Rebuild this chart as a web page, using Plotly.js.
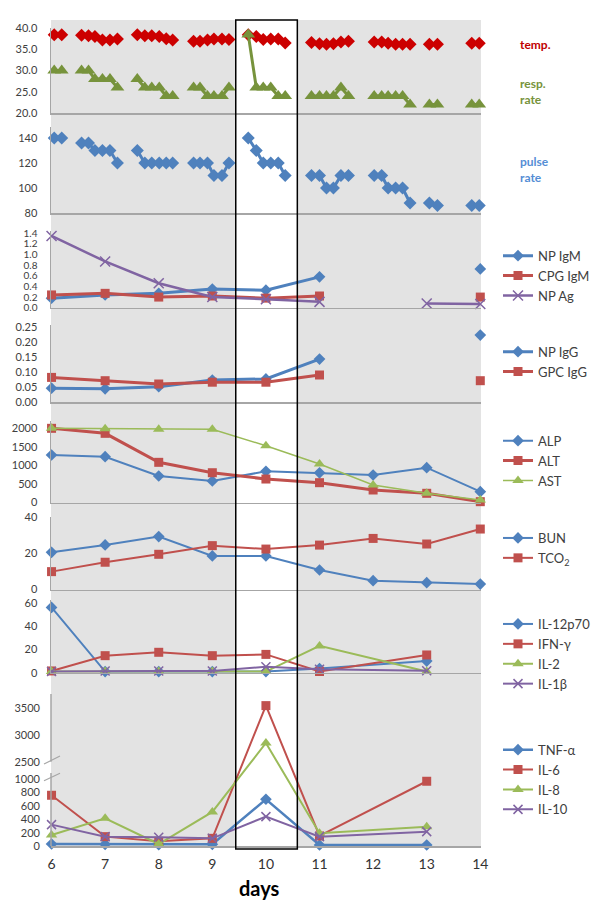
<!DOCTYPE html>
<html>
<head>
<meta charset="utf-8">
<script src="https://cdn.plot.ly/plotly-3.0.1.min.js"></script>
<style>
  html, body { margin: 0; padding: 0; background: #fff; }
  #chart { width: 600px; height: 911px; }
</style>
</head>
<body>
<div id="chart"></div>
<script>
// --- vitals: several readings per day, null breaks the line between days
const vitalsDay = [6.05, 6.19, null,
  6.56, 6.69, 6.81, 6.95, 7.09, 7.23, null,
  7.60, 7.74, 7.87, 8.01, 8.14, 8.26, null,
  8.65, 8.77, 8.91, 9.03, 9.18, 9.31, null,
  9.67, 9.82, 9.95, 10.09, 10.23, 10.36, null,
  10.85, 11.00, 11.13, 11.26, 11.40, 11.54, null,
  12.02, 12.16, 12.28, 12.42, 12.55, 12.69, null,
  13.05, 13.20, null,
  13.84, 13.98];
const temp = [38.4, 38.4, null,
  38.3, 38.2, 38.0, 37.2, 37.2, 37.4, null,
  38.4, 38.2, 38.2, 38.0, 37.5, 37.2, null,
  36.9, 36.9, 37.2, 37.4, 37.4, 37.3, null,
  38.4, 38.0, 37.3, 37.4, 37.4, 36.5, null,
  36.6, 36.3, 36.2, 36.3, 36.7, 36.9, null,
  36.7, 36.7, 36.4, 36.2, 36.2, 36.2, null,
  36.2, 36.2, null,
  36.4, 36.4];
const respRate = [30, 30, null,
  30, 30, 28, 28, 28, 26, null,
  28, 26, 26, 26, 24, 24, null,
  26, 26, 24, 24, 24, 26, null,
  38.5, 26, 26, 26, 24, 24, null,
  24, 24, 24, 24, 26, 24, null,
  24, 24, 24, 24, 24, 22, null,
  22, 22, null,
  22, 22];
const pulseRate = [140, 140, null,
  136, 136, 130, 130, 130, 120, null,
  130, 120, 120, 120, 120, 120, null,
  120, 120, 120, 110, 110, 120, null,
  140, 130, 120, 120, 120, 110, null,
  110, 110, 100, 100, 110, 110, null,
  110, 110, 100, 100, 100, 88, null,
  88, 86, null,
  86, 86];

// --- lab values, one per day
const days = [6, 7, 8, 9, 10, 11, 12, 13, 14];
const npIgM  = [0.18, 0.24, 0.27, 0.35, 0.33, 0.58, null, null, 0.73];
const cpgIgM = [0.24, 0.27, 0.20, 0.22, 0.18, 0.22, null, null, 0.20];
const npAg   = [1.35, 0.87, 0.46, 0.20, 0.16, 0.11, null, 0.08, 0.07];
const npIgG  = [0.047, 0.045, 0.052, 0.074, 0.078, 0.144, null, null, 0.224];
const gpcIgG = [0.083, 0.072, 0.061, 0.067, 0.067, 0.091, null, null, 0.072];
const alp = [1280, 1235, 714, 580, 840, 800, 741, 938, 291];
const alt = [2000, 1865, 1083, 803, 633, 534, 337, 248, 22];
const ast = [2000, 1985, 1975, 1975, 1530, 1038, 472, 248, 67];
const bun  = [20.6, 24.7, 29.3, 18.6, 18.6, 10.8, 4.9, 3.8, 3.0];
const tco2 = [9.9, 15.1, 19.5, 24.3, 22.4, 24.6, 28.3, 25.2, 33.5];

// --- cytokines (no samples on day 12 and 14)
const ilDays = [6, 7, 8, 9, 10, 11, 13];
const il12p70 = [56, 1, 1, 1, 1, 3.5, 10];
const ifng    = [1.5, 14.6, 17.5, 14.6, 15.7, 1, 15.2];
const il2     = [1, 1, 1, 1, 1, 23, 1];
const il1b    = [1, 1.5, 1.5, 1.5, 5.1, 2.9, 1.7];
const tnfa = [30, 25, 20, 25, 700, 15, 15];
const il6  = [760, 140, 70, 115, 3550, 150, 970];
const il8  = [165, 415, 30, 510, 2850, 190, 290];
const il10 = [320, 140, 130, 115, 440, 140, 215];

// broken axis of the last panel: 0..1000 as is, 2500.. squeezed above a gap
const brk = v => v == null ? null : (v <= 1000 ? v : 1263 + (v - 2500) * 0.8);
const brkTicks = [0, 200, 400, 600, 800, 1000, 2500, 3000, 3500];

const BLUE = '#4F81BD', RED = '#C0504D', GREEN = '#9BBB59', PURPLE = '#8064A2';
const AXIS = '#a6a6a6';
const FONT = 'Lato, "Open Sans", sans-serif';
const H = 911;
const py = p => 1 - p / H;           // pixel row -> paper y
const xRange = [5.99, 14.013];

function line(x, y, n, name, color, symbol, opts = {}) {
    const marker = { color, symbol, size: opts.size || 9 };
    if (symbol === 'x-thin') marker.line = { color, width: 1.5 };
    return {
        x, y, name, type: 'scatter', mode: 'lines+markers',
        xaxis: 'x' + (n > 1 ? n : ''), yaxis: 'y' + (n > 1 ? n : ''),
        line: { color, width: opts.width || 2 },
        marker, cliponaxis: false,
        connectgaps: !!opts.gaps,
        showlegend: opts.legend !== undefined,
        legend: opts.legend, hoverinfo: 'x+y+name'
    };
}

const data = [
    line(vitalsDay, temp, 1, 'temp.', '#CC0000', 'diamond', { size: 10, width: 3 }),
    line(vitalsDay, respRate, 1, 'resp. rate', '#77933C', 'triangle-up', { size: 12, width: 3 }),
    line(vitalsDay, pulseRate, 2, 'pulse rate', BLUE, 'diamond', { size: 10, width: 3 }),

    line(days, npIgM, 3, 'NP IgM', BLUE, 'diamond', { width: 3, legend: 'legend' }),
    line(days, cpgIgM, 3, 'CPG IgM', RED, 'square', { width: 3, legend: 'legend' }),
    line(days, npAg, 3, 'NP Ag', PURPLE, 'x-thin', { size: 10, width: 2.5, legend: 'legend' }),

    line(days, npIgG, 4, 'NP IgG', BLUE, 'diamond', { width: 3, legend: 'legend2' }),
    line(days, gpcIgG, 4, 'GPC IgG', RED, 'square', { width: 3, legend: 'legend2' }),

    line(days, alp, 5, 'ALP', BLUE, 'diamond', { width: 2, legend: 'legend3' }),
    line(days, alt, 5, 'ALT', RED, 'square', { width: 3, legend: 'legend3' }),
    line(days, ast, 5, 'AST', GREEN, 'triangle-up', { size: 10, width: 1.5, legend: 'legend3' }),

    line(days, bun, 6, 'BUN', BLUE, 'diamond', { width: 2, legend: 'legend4' }),
    line(days, tco2, 6, 'TCO<sub>2</sub>', RED, 'square', { width: 2, legend: 'legend4' }),

    line(ilDays, il12p70, 7, 'IL-12p70', BLUE, 'diamond', { width: 2, gaps: true, legend: 'legend5' }),
    line(ilDays, ifng, 7, 'IFN-γ', RED, 'square', { width: 2, gaps: true, legend: 'legend5' }),
    line(ilDays, il2, 7, 'IL-2', GREEN, 'triangle-up', { size: 10, width: 2, gaps: true, legend: 'legend5' }),
    line(ilDays, il1b, 7, 'IL-1β', PURPLE, 'x-thin', { width: 2, gaps: true, legend: 'legend5' }),

    line(ilDays, tnfa.map(brk), 8, 'TNF-α', BLUE, 'diamond', { width: 2.5, legend: 'legend6' }),
    line(ilDays, il6.map(brk), 8, 'IL-6', RED, 'square', { width: 2, legend: 'legend6' }),
    line(ilDays, il8.map(brk), 8, 'IL-8', GREEN, 'triangle-up', { size: 10, width: 2, legend: 'legend6' }),
    line(ilDays, il10.map(brk), 8, 'IL-10', PURPLE, 'x-thin', { width: 2, legend: 'legend6' })
];

// panel geometry: pixel top/bottom, value range, ticks
const panels = [
    { top: 28, bottom: 113, range: [20, 40], dtick: 5, fmt: '.1f' },
    { top: 127, bottom: 213, range: [80, 148.8], dtick: 20 },
    { top: 230.6, bottom: 307.7, range: [0, 1.45], dtick: 0.2, fmt: '.1f', fs: 10 },
    { top: 325, bottom: 402.3, range: [0, 0.2577], dtick: 0.05, fmt: '.2f' },
    { top: 420.9, bottom: 502.5, range: [0, 2200], dtick: 500 },
    { top: 517.3, bottom: 589.5, range: [0, 40], dtick: 20 },
    { top: 600.4, bottom: 672.7, range: [0, 62], dtick: 20 },
    { top: 694, bottom: 846, range: [0, 2277] }
];

const layout = {
    width: 600, height: 911,
    margin: { l: 51, r: 119, t: 0, b: 0 },
    paper_bgcolor: '#fff', plot_bgcolor: 'rgba(0,0,0,0)',
    font: { family: FONT, color: '#404040' },
    showlegend: true,
    shapes: [], annotations: []
};

panels.forEach((p, i) => {
    const n = i + 1, s = n > 1 ? n : '';
    const last = n === panels.length;
    layout['xaxis' + s] = {
        domain: [0, 1], range: xRange, anchor: 'y' + s,
        matches: n > 1 ? 'x' : undefined,
        showline: true, linecolor: AXIS, linewidth: 1.5,
        showgrid: false, zeroline: false, ticks: '',
        showticklabels: last, tickmode: 'array', tickvals: days,
        tickfont: { size: 14, color: '#333' }, ticklabelstandoff: 5
    };
    const y = {
        domain: [py(p.bottom), py(p.top)], range: p.range, anchor: 'x' + s,
        showline: !last, linecolor: AXIS, linewidth: 1.5,
        showgrid: false, zeroline: false, ticks: '',
        tickfont: { size: p.fs || 11, color: '#404040' }, ticklabelstandoff: 10
    };
    if (last) {
        y.tickmode = 'array';
        y.tickvals = brkTicks.map(brk);
        y.ticktext = brkTicks.map(String);
    } else {
        y.tickmode = 'linear'; y.tick0 = 0; y.dtick = p.dtick;
        if (p.fmt) y.tickformat = p.fmt;
    }
    layout['yaxis' + s] = y;
});

// grey plot background, white highlighted day 10, black frame
const bg = { xref: 'x', yref: 'paper', y0: py(848), y1: py(20), layer: 'below' };
layout.shapes.push(
    Object.assign({ type: 'rect', x0: xRange[0], x1: xRange[1], fillcolor: '#e3e3e3', line: { width: 0 } }, bg),
    Object.assign({ type: 'rect', x0: 9.437, x1: 10.586, fillcolor: '#ffffff', line: { width: 0 } }, bg),
    { type: 'rect', xref: 'x', yref: 'paper', x0: 9.437, x1: 10.586, y0: py(849), y1: py(20),
      line: { color: '#000', width: 1.5 }, layer: 'above' }
);
// broken y axis of the last panel
const axSeg = (y0, y1) => ({ type: 'line', xref: 'paper', yref: 'y8', x0: 0, x1: 0, y0, y1,
    line: { color: AXIS, width: 1.5 } });
const brkMark = (y0, y1) => ({ type: 'line', xref: 'paper', yref: 'y8', x0: -7 / 430, x1: 9 / 430, y0, y1,
    line: { color: AXIS, width: 1.2 } });
layout.shapes.push(
    axSeg(0, 1094), axSeg(brk(2500), 2277),
    brkMark(brk(2500) - 35, brk(2500) + 85),
    brkMark(1000 - 22, 1000 + 89)
);

// labels for the vitals panel
const lab = (text, yPix, color) => ({
    text, xref: 'paper', yref: 'paper', x: (518 - 51) / 430, y: py(yPix),
    xanchor: 'left', yanchor: 'middle', align: 'left', showarrow: false,
    font: { size: 12, color, family: FONT, weight: 'bold' }
});
layout.annotations.push(
    lab('<b>temp.</b>', 45, '#C00000'),
    lab('<b>resp.<br>rate</b>', 91, '#77933C'),
    lab('<b>pulse<br>rate</b>', 169.5, '#558ED5'),
    { text: '<b>days</b>', xref: 'paper', yref: 'paper', x: (259 - 51) / 430, y: py(888),
      xanchor: 'center', yanchor: 'middle', showarrow: false,
      font: { size: 20, color: '#000', family: FONT } }
);

// one legend per lab panel
const legendTops = { legend: 251.7, legend2: 347.7, legend3: 436.7, legend4: 534, legend5: 620, legend6: 745.7 };
Object.keys(legendTops).forEach(k => {
    layout[k] = {
        x: (498 - 51) / 430, xanchor: 'left', y: py(legendTops[k] - 11), yanchor: 'top',
        bgcolor: 'rgba(0,0,0,0)', font: { size: 13, color: '#404040', family: FONT },
        itemclick: false, itemdoubleclick: false
    };
});

Plotly.newPlot('chart', data, layout, { displayModeBar: false, staticPlot: true });
</script>
</body>
</html>
